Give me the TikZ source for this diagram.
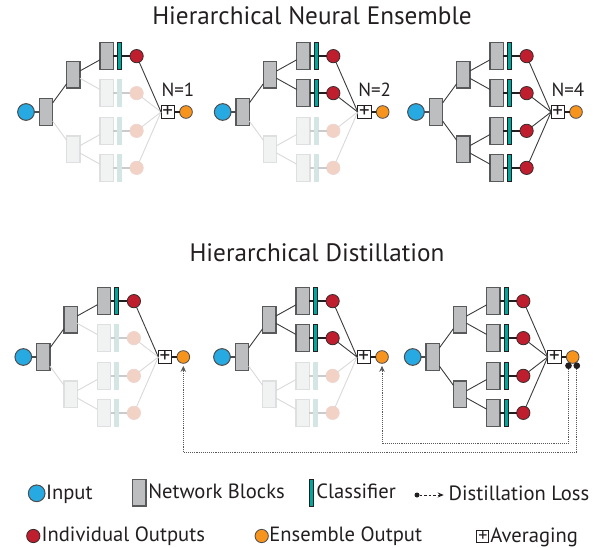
\documentclass[tikz,border=0pt]{standalone}
\usepackage{fontspec}
\setmainfont{PT Sans}
\usetikzlibrary{positioning,arrows.meta}
\definecolor{ink}{HTML}{231F20}
\definecolor{rim}{HTML}{4D4D4F}
\definecolor{inblue}{HTML}{27AAE1}
\definecolor{ensorange}{HTML}{F7941D}
\definecolor{blkfill}{HTML}{BCBEC0}
\definecolor{blkrim}{HTML}{58595B}
\definecolor{clffill}{HTML}{00A79D}
\definecolor{clfrim}{HTML}{231F20}
\definecolor{outfill}{HTML}{BE1E2D}
\definecolor{outrim}{HTML}{3A2A2C}
\definecolor{wirecol}{HTML}{3C3C3E}
\definecolor{buscol}{HTML}{231F20}
\definecolor{lossgray}{HTML}{58595B}
\begin{document}
\begin{tikzpicture}[x=1pt,y=-1pt,
	every node/.style={inner sep=0pt,outer sep=0pt,text=ink},
	input/.style={circle,minimum size=16.7pt,fill=inblue,draw=rim,line width=1pt},
	block/.style={rectangle,minimum width=13.3pt,minimum height=26.7pt,fill=blkfill,draw=blkrim,line width=1.2pt},
	clf/.style={rectangle,minimum width=4.3pt,minimum height=26.7pt,fill=clffill,draw=clfrim,line width=0.8pt},
	indiv/.style={circle,minimum size=13.3pt,fill=outfill,draw=outrim,line width=0.8pt},
	ens/.style={circle,minimum size=12.7pt,fill=ensorange,draw=rim,line width=0.8pt},
	avg/.style={rectangle,minimum size=13.3pt,fill=white,draw=ink,line width=0.9pt,font=\fontsize{21}{21}\selectfont},
	knot/.style={circle,minimum size=6.7pt,fill=ink},
	ghost/.code={\definecolor{blkfill}{HTML}{F1F2F2}\definecolor{blkrim}{HTML}{DEDFE0}
		\definecolor{clffill}{HTML}{D3E6E4}\definecolor{clfrim}{HTML}{D3E6E4}
		\definecolor{outfill}{HTML}{F3D2C6}\definecolor{outrim}{HTML}{EED5CD}
		\definecolor{wirecol}{HTML}{D9D9D9}\definecolor{buscol}{HTML}{C9CBCC}},
	live/.style={},
	wire/.style={draw=wirecol,line width=0.9pt},
	bus/.style={draw=buscol,line width=2pt},
	loss/.style={draw=lossgray,densely dotted,line width=0.9pt,-{Stealth[length=6pt,width=5.5pt]},shorten >=2.5pt},
	title/.style={font=\fontsize{25.2}{29}\selectfont,anchor=base},
	ncount/.style={font=\fontsize{19}{22}\selectfont,anchor=base west},
	legend/.style={font=\fontsize{20.6}{24}\selectfont,text height=14.4pt,text depth=3pt},
	grow'=right,
	level 1/.style={level distance=20pt,edge from parent/.style={draw=rim,line width=2pt}},
	level 2/.style={level distance=27.3pt,sibling distance=74.7pt,edge from parent/.style={wire}},
	level 3/.style={level distance=33.3pt,sibling distance=37pt,edge from parent/.style={wire}},
	level 4/.style={level distance=12.8pt,edge from parent/.style={bus}},
	level 5/.style={level distance=17.2pt,edge from parent/.style={bus}}]
	\useasboundingbox (0,0) rectangle (597,548);

	\node[title] (t-ens) at (312,25) {Hierarchical Neural Ensemble};
	\node[title] (t-dis) at (317,261.7) {Hierarchical Distillation};

	\foreach \p/\x/\y/\n in {a/26/112/1,b/222.7/112/2,c/416/112/4,d/23.3/357/1,e/222/357/2,f/412.7/357/4}{
		\ifnum\n<2 \def\stm{ghost}\else\def\stm{live}\fi
		\ifnum\n<3 \def\stl{ghost}\else\def\stl{live}\fi
		\node[input] (in-\p) at (\x,\y) {}
			child {node[block] (r-\p) {}
				child {node[block] {}
					child {node[block] {} child {node[clf] {} child {node[indiv] (o1-\p) {}}}}
					child[\stm] {node[block] {} child {node[clf] {} child {node[indiv] (o2-\p) {}}}}
				}
				child[\stl] {node[block] {}
					child {node[block] {} child {node[clf] {} child {node[indiv] (o3-\p) {}}}}
					child {node[block] {} child {node[clf] {} child {node[indiv] (o4-\p) {}}}}
				}
			};
		\node[avg] (m-\p) at ([xshift=141.7pt]in-\p) {+};
		\node[ens, right=5.3pt of m-\p] (e-\p) {};
		\draw[\stl,wire] (o4-\p) -- (m-\p.west);
		\draw[\stl,wire] (o3-\p) -- (m-\p.west);
		\draw[\stm,wire] (o2-\p) -- (m-\p.west);
		\draw[wire] (o1-\p) -- (m-\p.west);
		\draw[bus] (m-\p) -- (e-\p);
	}

	\foreach \p/\n in {a/1,b/2,c/4}
		\node[ncount] at ([shift={(0.5pt,9.3pt)}]m-\p.north west) {N=\n};

	\coordinate (low1) at (400,443.3);
	\coordinate (low2) at (400,452.3);
	\node[knot] (k1) at ([xshift=-4.2pt,yshift=-8.7pt]e-f) {};
	\node[knot] (k2) at ([xshift=4.1pt,yshift=-8.7pt]e-f) {};
	\draw[loss] (k1.south) -- (k1.south |- low1) -| (e-e.south);
	\draw[loss] (k2.south) -- (k2.south |- low2) -| (e-d.south);

	\node[input] (k-in) at (36.7,493.3) {};
	\node[legend, right=1pt of k-in] {Input};
	\node[block] (k-blk) at (139.3,492.7) {};
	\node[legend, right=2.3pt of k-blk] {Network Blocks};
	\node[clf] (k-clf) at (311.7,492.7) {};
	\node[legend, right=2.5pt of k-clf] {Classifier};
	\node[circle,minimum size=5pt,fill=ink] (k-dl) at (417,495) {};
	\coordinate (k-dl-end) at (443.7,495);
	\draw[draw=ink,line width=0.9pt,dash pattern=on 2.5pt off 2pt,-{Stealth[length=6pt,width=5pt]}] (k-dl) -- (k-dl-end);
	\node[legend, right=5pt of k-dl-end] {Distillation Loss};
	\node[indiv] (k-out) at (33.3,536) {};
	\node[legend, right=1.7pt of k-out] {Individual Outputs};
	\node[ens,minimum size=13.3pt] (k-ens) at (261.7,536) {};
	\node[legend, right=1pt of k-ens] {Ensemble Output};
	\node[avg,minimum size=12pt,font=\fontsize{18}{18}\selectfont] (k-avg) at (482.8,536.5) {+};
	\node[legend, right=1.5pt of k-avg] {Averaging};
\end{tikzpicture}
\end{document}
